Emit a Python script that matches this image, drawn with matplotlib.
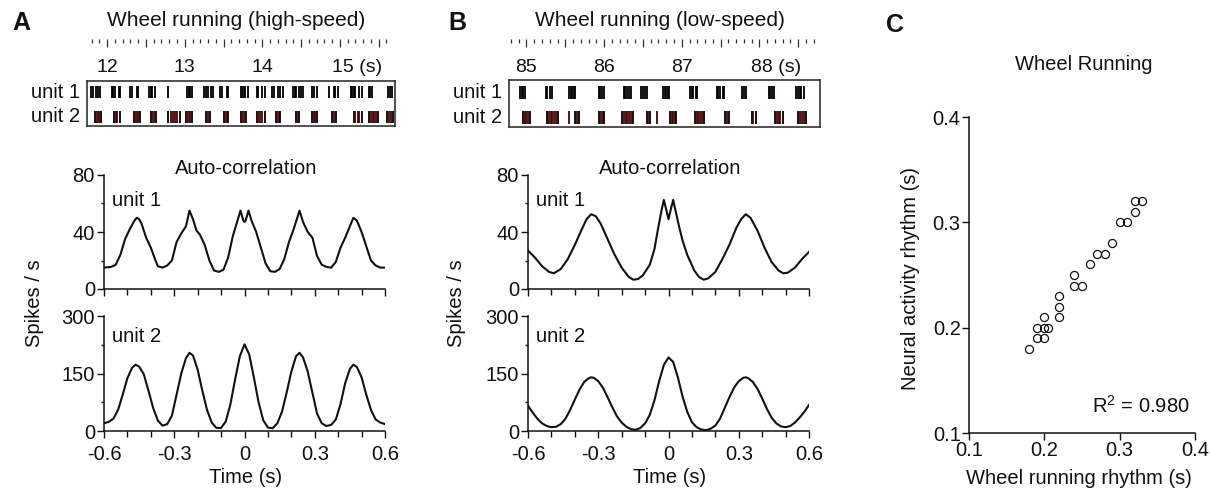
import numpy as np
import matplotlib
matplotlib.use("Agg")
import matplotlib.pyplot as plt
from matplotlib.transforms import ScaledTranslation

plt.rcParams['font.family'] = ['Liberation Sans', 'DejaVu Sans']
plt.rcParams['mathtext.fontset'] = 'custom'
plt.rcParams['mathtext.rm'] = 'Liberation Sans'
plt.rcParams['text.color'] = '#111111'
plt.rcParams['axes.edgecolor'] = '#111111'
plt.rcParams['xtick.color'] = '#111111'
plt.rcParams['ytick.color'] = '#111111'

# === DATA ===
# spike times (s), grouped by burst
a_unit1 = [
    [11.79, 11.82, 11.85, 11.88, 11.91], [12.06, 12.08, 12.10, 12.15, 12.17],
    [12.30, 12.32, 12.38, 12.40], [12.54, 12.56, 12.58, 12.62], [12.79],
    [13.03, 13.05, 13.07, 13.09], [13.25, 13.28, 13.30, 13.34, 13.36],
    [13.46, 13.48, 13.54, 13.56], [13.72, 13.74, 13.76, 13.78, 13.82],
    [13.93, 13.95, 14.00, 14.03], [14.13, 14.15, 14.20, 14.23, 14.27],
    [14.39, 14.42, 14.44, 14.47, 14.50, 14.53], [14.64, 14.66, 14.70],
    [14.86, 14.92, 14.94, 14.98], [15.14, 15.16, 15.18, 15.20, 15.24, 15.28],
    [15.37, 15.39, 15.41], [15.62, 15.64, 15.67],
]
a_unit2 = [
    [11.84, 11.86, 11.88, 11.90, 11.92], [12.09, 12.11, 12.13, 12.16],
    [12.34, 12.36, 12.38, 12.40, 12.42], [12.56, 12.58, 12.60, 12.63],
    [12.79, 12.82, 12.85, 12.87, 12.90, 12.94], [13.01, 13.03, 13.05, 13.07, 13.09],
    [13.28, 13.30, 13.32], [13.50, 13.52, 13.54, 13.56], [13.72, 13.74, 13.76, 13.79],
    [13.93, 13.95, 13.97, 14.00, 14.03], [14.17, 14.19, 14.21, 14.23],
    [14.43, 14.45, 14.47], [14.64, 14.66, 14.68, 14.71], [14.90, 14.92, 14.95],
    [15.18, 15.20, 15.23, 15.25, 15.28], [15.37, 15.40, 15.42, 15.44, 15.46, 15.49],
    [15.61, 15.63, 15.66, 15.68],
]
b_unit1 = [
    [84.92, 84.94, 84.96, 84.98], [85.25, 85.27, 85.30, 85.33],
    [85.55, 85.57, 85.59, 85.61, 85.63], [85.93, 85.95, 85.97, 86.00],
    [86.25, 86.27, 86.29, 86.32, 86.35], [86.48, 86.50, 86.53, 86.55],
    [86.76, 86.78, 86.80, 86.82, 86.84], [87.11, 87.13, 87.15, 87.18, 87.20],
    [87.45, 87.47, 87.49, 87.53, 87.55], [87.77, 87.80, 87.83],
    [88.12, 88.14, 88.16, 88.19], [88.47, 88.50, 88.52, 88.54, 88.57],
]
b_unit2 = [
    [84.96, 84.98, 85.00, 85.02, 85.04], [85.26, 85.29, 85.31, 85.33, 85.35, 85.38, 85.40],
    [85.55], [85.63, 85.65, 85.68], [85.94, 85.96, 85.98, 86.00],
    [86.23, 86.26, 86.28, 86.30, 86.32, 86.35, 86.37], [86.55, 86.57, 86.59], [86.68],
    [86.85, 86.87, 86.89, 86.91, 86.93], [87.17, 87.19, 87.21, 87.23, 87.26, 87.29],
    [87.56, 87.58, 87.61], [87.90, 87.92, 87.95], [88.20, 88.22, 88.25, 88.27, 88.30],
    [88.50, 88.52, 88.55, 88.57, 88.60],
]

# auto-correlation: lag (s) and rate (spikes/s)
a1_lag = [-0.60, -0.57, -0.55, -0.53, -0.51, -0.49, -0.47, -0.46, -0.45, -0.44, -0.42, -0.40,
          -0.38, -0.37, -0.35, -0.33, -0.31, -0.29, -0.27, -0.25, -0.235, -0.22, -0.205, -0.19,
          -0.17, -0.15, -0.13, -0.11, -0.09, -0.07, -0.05, -0.03, -0.017, -0.005, 0.0, 0.005,
          0.017, 0.03, 0.05, 0.07, 0.09, 0.11, 0.13, 0.15, 0.17, 0.19, 0.21, 0.235, 0.25, 0.27,
          0.29, 0.31, 0.33, 0.35, 0.37, 0.39, 0.41, 0.43, 0.45, 0.465, 0.48, 0.50, 0.52, 0.54,
          0.56, 0.58, 0.60]
a1_rate = [15, 15.5, 17, 24, 35, 42, 48, 50, 49, 46, 36, 29,
           20, 16, 15, 16.5, 20, 33, 39, 44, 55, 49, 41, 38,
           31, 20, 13, 12, 13.5, 22, 37, 48, 55, 48, 47, 48,
           55, 48, 40, 29, 18, 12.5, 12, 14, 21, 33, 42, 55, 47, 40,
           36, 23, 17, 15.5, 15, 19, 29, 36, 44, 50, 48, 40, 30, 20,
           16.5, 15, 15]
a2_lag = [-0.60, -0.58, -0.56, -0.54, -0.52, -0.50, -0.48, -0.465, -0.45, -0.43, -0.41, -0.39,
          -0.37, -0.35, -0.33, -0.31, -0.29, -0.27, -0.25, -0.235, -0.22, -0.20, -0.18, -0.16,
          -0.14, -0.12, -0.10, -0.08, -0.06, -0.04, -0.02, 0.0, 0.02, 0.04, 0.06, 0.08, 0.10,
          0.12, 0.14, 0.16, 0.18, 0.20, 0.22, 0.235, 0.25, 0.27, 0.29, 0.31, 0.33, 0.35, 0.37,
          0.39, 0.41, 0.43, 0.45, 0.465, 0.48, 0.50, 0.52, 0.54, 0.56, 0.58, 0.60]
a2_rate = [20, 24, 32, 55, 95, 138, 165, 173, 168, 148, 105, 60,
           27, 14, 18, 40, 95, 150, 190, 204, 197, 160, 105, 55,
           22, 8, 8, 25, 70, 135, 195, 226, 200, 140, 75, 28, 9,
           7, 20, 50, 100, 155, 195, 204, 192, 155, 100, 45, 20, 13, 16,
           30, 70, 125, 162, 173, 167, 140, 95, 55, 30, 22, 18]
b1_lag = [-0.60, -0.57, -0.54, -0.51, -0.49, -0.46, -0.43, -0.40, -0.37, -0.35, -0.33, -0.31,
          -0.29, -0.26, -0.23, -0.20, -0.17, -0.15, -0.13, -0.11, -0.08, -0.06, -0.045, -0.03,
          -0.02, -0.01, 0.0, 0.01, 0.02, 0.03, 0.045, 0.06, 0.08, 0.11, 0.13, 0.15, 0.17, 0.20,
          0.23, 0.26, 0.29, 0.31, 0.33, 0.35, 0.38, 0.41, 0.44, 0.47, 0.49, 0.51, 0.54, 0.57,
          0.60]
b1_rate = [27, 22, 16, 12, 11, 14, 21, 31, 42, 49, 52.5, 51,
           46, 35, 24, 15, 8.5, 6.5, 7, 9.5, 17, 28, 42, 55,
           62.5, 56, 49, 56, 62.5, 55, 44, 34, 24, 13, 8.5, 6.5, 7.5, 12,
           21, 31, 43, 49, 52.5, 50, 41, 29, 19, 13, 11, 11.5, 15, 21,
           26]
b2_lag = [-0.60, -0.58, -0.56, -0.54, -0.52, -0.50, -0.48, -0.46, -0.44, -0.42, -0.40, -0.38,
          -0.36, -0.34, -0.33, -0.32, -0.30, -0.28, -0.26, -0.24, -0.22, -0.20, -0.18, -0.16,
          -0.14, -0.12, -0.10, -0.08, -0.06, -0.04, -0.02, 0.0, 0.02, 0.04, 0.06, 0.08, 0.10,
          0.12, 0.14, 0.16, 0.18, 0.20, 0.22, 0.24, 0.26, 0.28, 0.30, 0.32, 0.33, 0.34, 0.36,
          0.38, 0.40, 0.42, 0.44, 0.46, 0.48, 0.50, 0.52, 0.54, 0.56, 0.58, 0.60]
b2_rate = [66, 48, 32, 20, 13, 10, 11, 18, 32, 55, 82, 108,
           128, 138, 140, 139, 130, 113, 88, 62, 38, 22, 11, 5,
           3, 8, 20, 42, 80, 130, 172, 192, 180, 140, 90, 50, 23,
           10, 4, 2, 6, 14, 32, 60, 88, 113, 130, 139, 140, 138, 128,
           110, 85, 58, 35, 20, 12, 10, 13, 22, 35, 50, 68]

# rhythm scatter (s)
wheel_rhythm = [0.18, 0.19, 0.19, 0.20, 0.20, 0.20, 0.205, 0.22, 0.22, 0.22, 0.24,
                0.24, 0.25, 0.26, 0.27, 0.28, 0.29, 0.30, 0.31, 0.32, 0.32, 0.33]
neural_rhythm = [0.18, 0.20, 0.19, 0.21, 0.20, 0.19, 0.20, 0.23, 0.22, 0.21, 0.25,
                 0.24, 0.24, 0.26, 0.27, 0.27, 0.28, 0.30, 0.30, 0.31, 0.32, 0.32]
r_squared = 0.980

# === LAYOUT (pixels) ===
W, H = 1210, 490
fig = plt.figure(figsize=(W / 100, H / 100), dpi=100)


def box(l, t, r, b):
    return [l / W, 1 - b / H, (r - l) / W, (b - t) / H]


def ftext(x, y, s, **kw):
    kw.setdefault('ha', 'center')
    kw.setdefault('va', 'center')
    fig.text(x / W, 1 - y / H, s, **kw)


def ruler(left, right, t0, t1, majors, labels, minors):
    ax = fig.add_axes(box(left, 38.5, right, 39))
    for s in ax.spines.values():
        s.set_visible(False)
    ax.set_xlim(t0, t1)
    ax.set_yticks([])
    ax.set_xticks(majors, labels)
    ax.set_xticks(minors, minor=True)
    ax.tick_params(axis='x', which='major', direction='out', length=5.5, width=0.9,
                   color='#333333', pad=9, labelsize=14)
    ax.tick_params(axis='x', which='minor', direction='out', length=3, width=0.9,
                   color='#333333')
    lab = ax.get_xticklabels()[6]
    lab.set_ha('left')
    lab.set_transform(lab.get_transform() + ScaledTranslation(-0.08, 0, fig.dpi_scale_trans))
    return ax


def style_autocorr(ax, ymax, ymid, yminor, labels):
    for side in ('top', 'right'):
        ax.spines[side].set_visible(False)
    for side in ('left', 'bottom'):
        ax.spines[side].set_linewidth(1.1)
    ax.set_xlim(-0.6, 0.6)
    ax.set_ylim(0, ymax)
    ax.set_yticks([0, ymid, ymax], ['0', str(ymid), str(ymax)])
    ax.set_yticks(yminor, minor=True)
    ax.set_xticks([-0.6, -0.3, 0, 0.3, 0.6],
                  ['-0.6', '-0.3', '0', '0.3', '0.6'] if labels else [])
    ax.set_xticks([-0.5, -0.4, -0.2, -0.1, 0.1, 0.2, 0.4, 0.5], minor=True)
    ax.tick_params(axis='both', which='major', direction='out', length=5, width=1.0,
                   labelsize=14.5)
    ax.tick_params(axis='y', which='major', pad=1.5)
    ax.tick_params(axis='x', which='major', pad=5)
    ax.tick_params(axis='y', which='minor', direction='out', length=2, width=1.0)
    ax.tick_params(axis='x', which='minor', direction='out', length=4.5, width=1.0)


def panel(xoff, left, right, t0, t1, box_top, box_bot, majors, labels, minors,
          u1, u2, y1, y2, title, c1_lag, c1_rate, c2_lag, c2_rate, ylab_x):
    ruler(left, right, t0, t1, majors, labels, minors)

    # spike raster
    ax_r = fig.add_axes(box(left, box_top, right, box_bot))
    ax_r.set_xlim(t0, t1)
    ax_r.set_ylim(box_bot, box_top)
    ax_r.set_xticks([])
    ax_r.set_yticks([])
    for s in ax_r.spines.values():
        s.set_linewidth(1.2)
        s.set_color('#333333')
    for burst in u1:
        ax_r.vlines(burst, y1[0], y1[1], colors='black', lw=1.3)
    for burst in u2:
        cols = ['#4a0303'] * len(burst)
        if len(burst) > 2:
            cols[0] = 'black'
            cols[-1] = 'black'
        ax_r.vlines(burst, y2[0], y2[1], colors=cols, lw=1.3)
    ftext(left - 7, (y1[0] + y1[1]) / 2, 'unit 1', fontsize=14.5, ha='right')
    ftext(left - 7, (y2[0] + y2[1]) / 2, 'unit 2', fontsize=14.5, ha='right')
    ftext(xoff + 236, 20, title, fontsize=15)

    # auto-correlations
    ax1 = fig.add_axes(box(xoff + 104, 175, xoff + 385, 289))
    ax1.plot(c1_lag, c1_rate, color='#111111', lw=1.5)
    style_autocorr(ax1, 80, 40, [20, 60], False)
    ax2 = fig.add_axes(box(xoff + 104, 316, xoff + 385, 431))
    ax2.plot(c2_lag, c2_rate, color='#111111', lw=1.5)
    style_autocorr(ax2, 300, 150, [75, 225], True)
    ax1.text(0.03, 0.78, 'unit 1', transform=ax1.transAxes, fontsize=14.5, va='center')
    ax2.text(0.03, 0.82, 'unit 2', transform=ax2.transAxes, fontsize=14.5, va='center')
    ftext(xoff + 246, 168, 'Auto-correlation', fontsize=14.5)
    ftext(xoff + 246, 477, 'Time (s)', fontsize=14.5)
    ftext(ylab_x, 303, 'Spikes / s', fontsize=14.5, rotation=90)


# === PANEL A ===
ftext(21, 23, 'A', fontsize=18, fontweight='bold')
panel(0, 87, 395, 11.74, 15.71, 81, 126,
      [12, 12.5, 13, 13.5, 14, 14.5, 15, 15.5], ['12', '', '13', '', '14', '', '15 (s)', ''],
      np.round(np.arange(11.8, 15.65, 0.1), 1),
      a_unit1, a_unit2, (86, 98), (111, 123), 'Wheel running (high-speed)',
      a1_lag, a1_rate, a2_lag, a2_rate, 35)

# === PANEL B ===
ftext(457, 23, 'B', fontsize=18, fontweight='bold')
panel(424, 509, 820, 84.775, 88.78, 80, 127,
      [85, 85.5, 86, 86.5, 87, 87.5, 88, 88.5], ['85', '', '86', '', '87', '', '88 (s)', ''],
      np.round(np.arange(84.8, 88.75, 0.1), 1),
      b_unit1, b_unit2, (86, 99), (111, 124), 'Wheel running (low-speed)',
      b1_lag, b1_rate, b2_lag, b2_rate, 457)

# === PANEL C ===
ftext(895, 25, 'C', fontsize=18, fontweight='bold')
axc = fig.add_axes(box(969, 117, 1195, 433))
axc.plot(wheel_rhythm, neural_rhythm, 'o', mfc='none', mec='#111111', ms=5.8, mew=0.9)
for side in ('top', 'right'):
    axc.spines[side].set_visible(False)
for side in ('left', 'bottom'):
    axc.spines[side].set_linewidth(1.1)
axc.set_xlim(0.1, 0.4)
axc.set_ylim(0.1, 0.4)
axc.set_xticks([0.1, 0.2, 0.3, 0.4], ['0.1', '0.2', '0.3', '0.4'])
axc.set_yticks([0.1, 0.2, 0.3, 0.4], ['0.1', '0.2', '0.3', '0.4'])
axc.tick_params(axis='both', direction='out', length=5, width=1.0, labelsize=14.5, pad=1)
axc.text(0.393, 0.119, 'R$^2$ = %.3f' % r_squared, ha='right', va='baseline', fontsize=14.5)
ftext(1084, 65, 'Wheel Running', fontsize=14.5)
ftext(1079, 478, 'Wheel running rhythm (s)', fontsize=14.5)
ftext(910, 278, 'Neural activity rhythm (s)', fontsize=14.5, rotation=90)

fig.savefig('out.png', dpi=100)
